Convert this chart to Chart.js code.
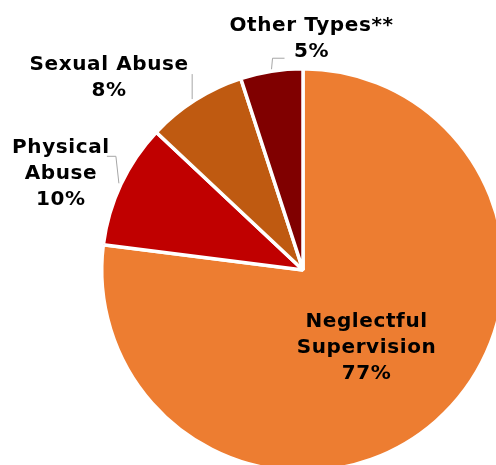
<!DOCTYPE html>
<html>
<head>
<meta charset="utf-8">
<script src="https://cdn.jsdelivr.net/npm/chart.js@4/dist/chart.umd.min.js"></script>
<style>
  html, body { margin: 0; padding: 0; background: #ffffff; overflow: hidden; width: 496px; height: 465px; }
  #wrap { position: absolute; left: 0; top: 0; }
</style>
</head>
<body>
<div id="wrap"><canvas id="Chart1" width="606" height="540"></canvas></div>
<script>
const categories = ["Neglectful Supervision", "Physical Abuse", "Sexual Abuse", "Other Types**"];
const percentages = [77, 10, 8, 5];
const labelLines = [
    ["Neglectful", "Supervision", "77%"],
    ["Physical", "Abuse", "10%"],
    ["Sexual Abuse", "8%"],
    ["Other Types**", "5%"],
];
const sliceColors = ["#ED7D31", "#C00000", "#BF5A11", "#800000"];

// label placement, relative to the outer middle of each slice (inside for the big one)
const labelOffsets = [[-3, 2], [-60, -11], [-86, -22], [40, -32]];
const leaderLines = [
    null,
    [[-2, -1], [-5, -28], [-14, -28]],
    [[-3, -1], [-3, -26]],
    [[0, -2], [1, -13], [13, -13]],
];

const pieLabels = {
    id: "pieLabels",
    afterDatasetsDraw(chart) {
        const ctx = chart.ctx;
        const arcs = chart.getDatasetMeta(0).data;
        ctx.save();
        ctx.font = "bold 20px 'DejaVu Sans', Verdana, sans-serif";
        ctx.letterSpacing = "0.6px";
        ctx.fillStyle = "#000000";
        ctx.textAlign = "center";
        ctx.textBaseline = "middle";
        arcs.forEach((arc, i) => {
            const p = arc.getProps(["x", "y", "startAngle", "endAngle", "outerRadius"], true);
            const mid = (p.startAngle + p.endAngle) / 2;
            const r = i === 0 ? p.outerRadius * 0.5 : p.outerRadius;
            const ax = p.x + Math.cos(mid) * r;
            const ay = p.y + Math.sin(mid) * r;

            // Leader line
            if (leaderLines[i]) {
                ctx.beginPath();
                ctx.strokeStyle = "#A6A6A6";
                ctx.lineWidth = 1;
                leaderLines[i].forEach((pt, k) => {
                    if (k === 0) ctx.moveTo(ax + pt[0], ay + pt[1]);
                    else ctx.lineTo(ax + pt[0], ay + pt[1]);
                });
                ctx.stroke();
            }

            // Text
            const lines = labelLines[i];
            const lineHeight = 26;
            const cx = ax + labelOffsets[i][0];
            const cy = ay + labelOffsets[i][1] - (lines.length - 1) * lineHeight / 2;
            lines.forEach((t, k) => ctx.fillText(t, cx, cy + k * lineHeight));
        });
        ctx.restore();
    }
};

new Chart(document.getElementById("Chart1").getContext("2d"), {
    type: "pie",
    data: {
        labels: categories,
        datasets: [{
            data: percentages,
            backgroundColor: sliceColors,
            borderColor: "#FFFFFF",
            borderWidth: 3.5,
            hoverOffset: 0,
        }]
    },
    options: {
        responsive: false,
        animation: false,
        layout: {
            padding: { left: 100, right: 100, top: 67, bottom: 67 }
        },
        plugins: {
            legend: { display: false },
            tooltip: { enabled: false },
        }
    },
    plugins: [pieLabels]
});
</script>
</body>
</html>
